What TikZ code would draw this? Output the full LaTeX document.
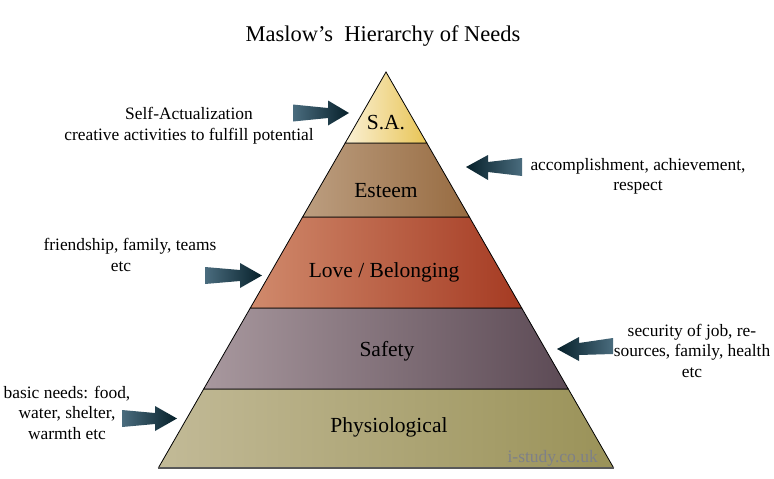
\documentclass[tikz,border=0pt]{standalone}
\usepackage{fontspec}
\setmainfont{Liberation Serif}
\definecolor{saL}{HTML}{FAF0D4}
\definecolor{saR}{HTML}{E8C455}
\definecolor{esL}{HTML}{BC9E80}
\definecolor{esR}{HTML}{976B41}
\definecolor{loL}{HTML}{D08A6C}
\definecolor{loR}{HTML}{A53A22}
\definecolor{saftL}{HTML}{A8989E}
\definecolor{saftR}{HTML}{5C4A55}
\definecolor{phL}{HTML}{C2BA97}
\definecolor{phR}{HTML}{9A9258}
\definecolor{arTail}{HTML}{4A6C7E}
\definecolor{arTip}{HTML}{06202A}
\definecolor{wmark}{HTML}{7E8088}
\begin{document}
\begin{tikzpicture}[x=1pt,y=-1pt,
  layer/.style={draw=black,line width=0.8pt,line join=miter},
  lvl/.style={anchor=base,inner sep=0pt,font=\fontsize{21.5}{24}\selectfont},
  side/.style={align=center,inner sep=0pt,font=\fontsize{17.4}{20.5}\selectfont},
  arrowR/.style={left color=arTail,right color=arTip},
  arrowL/.style={left color=arTip,right color=arTail}]
\useasboundingbox[fill=white] (0,0) rectangle (774,479);

% title
\node[anchor=base,inner sep=0pt,font=\fontsize{22.5}{26}\selectfont] (title) at (383,41) {Maslow’s\ \ Hierarchy of Needs};

% pyramid layers
\shade[left color=phL,right color=phR] (203.7,389) -- (568.3,389) -- (613.7,468) -- (158.3,468) -- cycle;
\draw[layer] (203.7,389) -- (568.3,389) -- (613.7,468);
\draw[layer] (158.3,468) -- (203.7,389);
\draw[line width=1.6pt,color=black!65] (158.3,468) -- (613.7,468);
\shade[left color=saftL,right color=saftR] (250.3,308) -- (521.7,308) -- (568.3,389) -- (203.7,389) -- cycle;
\draw[layer] (250.3,308) -- (521.7,308) -- (568.3,389) -- (203.7,389) -- cycle;
\shade[left color=loL,right color=loR] (302.6,217) -- (469.4,217) -- (521.7,308) -- (250.3,308) -- cycle;
\draw[layer] (302.6,217) -- (469.4,217) -- (521.7,308) -- (250.3,308) -- cycle;
\shade[left color=esL,right color=esR] (345.2,143) -- (426.8,143) -- (469.4,217) -- (302.6,217) -- cycle;
\draw[layer] (345.2,143) -- (426.8,143) -- (469.4,217) -- (302.6,217) -- cycle;
\shade[left color=saL,right color=saR] (386,72) -- (426.8,143) -- (345.2,143) -- cycle;
\draw[layer] (386,72) -- (426.8,143) -- (345.2,143) -- cycle;

% level labels
\node[lvl] (sa) at (386,129) {S.A.};
\node[lvl] (esteem) at (386,197) {Esteem};
\node[lvl] (love) at (384,277) {Love / Belonging};
\node[lvl] (safety) at (387,356) {Safety};
\node[lvl] (phys) at (389,432) {Physiological};
\node[anchor=base east,inner sep=0pt,text=wmark,font=\fontsize{17.5}{20}\selectfont] (mark) at (598,462) {i-study.co.uk};

% side texts
\node[side] (tsa) at (189,125.5) {Self-Actualization\\creative activities to fulfill potential};
\node[side] (tes) at (638,176.5) {accomplishment, achievement,\\respect};
\node[side] (tlo) at (130,255) {friendship, family, teams\\etc\hspace*{18pt}};
\node[side] (tsf) at (692,350.5) {security of job, re-\\sources, family, health\\etc};
\node[side] (tph) at (67,412.5) {basic needs: food,\\water, shelter,\\warmth etc};

% arrows
\shade[arrowR] (293,104.5) -- (328,108) -- (328,100.5) -- (349,113) -- (328,125.5) -- (328,118) -- (293,121.5) -- cycle;
\shade[arrowL] (466,167) -- (488,155) -- (488,162) -- (522,158) -- (522,176) -- (488,172) -- (488,180) -- cycle;
\shade[arrowR] (205,267) -- (240,270) -- (240,263) -- (262,275.5) -- (240,288) -- (240,281) -- (205,284) -- cycle;
\shade[arrowL] (557,349) -- (579,337) -- (579,343) -- (613,338) -- (613,354) -- (579,355) -- (579,361) -- cycle;
\shade[arrowR] (122,410) -- (155,413) -- (155,406) -- (177,418.5) -- (155,431) -- (155,424) -- (122,427) -- cycle;
\end{tikzpicture}
\end{document}
